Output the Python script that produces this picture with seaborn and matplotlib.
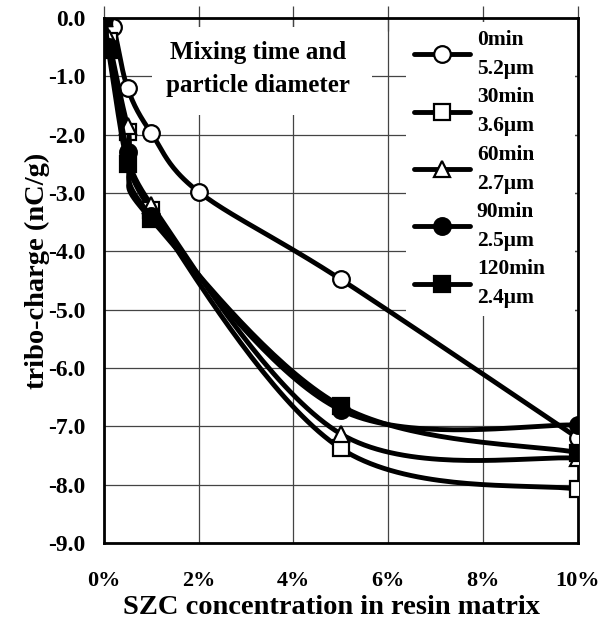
import numpy as np
import pandas as pd
import matplotlib
matplotlib.use("Agg")
import matplotlib.pyplot as plt
from matplotlib.lines import Line2D
from matplotlib.patches import Rectangle
import seaborn as sns

# ---- data ----
x_0min = [0, 0.2, 0.5, 1, 2, 5, 10]
y_0min = [0, -0.15, -1.2, -1.97, -2.98, -4.48, -7.2]
x_other = [0, 0.1, 0.5, 1, 5, 10]
y_30min = [0, -0.4, -1.95, -3.3, -7.38, -8.08]
y_60min = [0, -0.35, -1.85, -3.2, -7.13, -7.55]
y_90min = [0, -0.5, -2.3, -3.4, -6.72, -6.98]
y_120min = [0, -0.55, -2.5, -3.45, -6.65, -7.45]
labels = ["0min\n5.2\u03bcm", "30min\n3.6\u03bcm", "60min\n2.7\u03bcm",
          "90min\n2.5\u03bcm", "120min\n2.4\u03bcm"]
x_ticks = [0, 2, 4, 6, 8, 10]
x_ticklabels = ["0%", "2%", "4%", "6%", "8%", "10%"]
y_ticks = [0, -1, -2, -3, -4, -5, -6, -7, -8, -9]

series = [(x_0min, y_0min, "o", "white"),
          (x_other, y_30min, "s", "white"),
          (x_other, y_60min, "^", "white"),
          (x_other, y_90min, "o", "black"),
          (x_other, y_120min, "s", "black")]

sns.set_theme(style="white")
plt.rcParams["font.family"] = ["Liberation Serif", "DejaVu Serif"]
plt.rcParams["font.weight"] = "bold"
plt.rcParams["axes.labelweight"] = "bold"
for k in ["text.color", "axes.labelcolor", "xtick.color", "ytick.color"]:
    plt.rcParams[k] = "black"

fig = plt.figure(figsize=(6, 6.2), dpi=100)
ax = fig.add_axes([0.173, 0.1242, 0.79, 0.8468])

SX, SY = 47.4, 58.3  # approximate px per unit, used only for smoothing shape


def smooth(xs, ys, n=40):
    P = np.column_stack([np.array(xs, float) * SX, np.array(ys, float) * SY])
    out = []
    m = len(P)
    for i in range(m - 1):
        p0 = P[i - 1] if i > 0 else P[i]
        p1 = P[i]
        p2 = P[i + 1]
        p3 = P[i + 2] if i + 2 < m else P[i + 1]
        c1 = p1 + (p2 - p0) / 6.0
        c2 = p2 - (p3 - p1) / 6.0
        t = np.linspace(0, 1, n)[:, None]
        seg = ((1 - t) ** 3) * p1 + 3 * ((1 - t) ** 2) * t * c1 + 3 * (1 - t) * t ** 2 * c2 + t ** 3 * p2
        out.append(seg if i == 0 else seg[1:])
    S = np.vstack(out)
    return S[:, 0] / SX, S[:, 1] / SY


for k, (xs, ys, mk, fc) in enumerate(series):
    sx, sy = smooth(xs, ys)
    sns.lineplot(x=sx, y=sy, sort=False, color="black", lw=3.5, ax=ax,
                 zorder=3 + k, estimator=None)
    ax.plot(xs, ys, linestyle="none", marker=mk, markersize=12,
            markerfacecolor=fc, markeredgecolor="black", markeredgewidth=1.6,
            zorder=3.5 + k)

ax.set_xlim(0, 10)
ax.set_ylim(-9, 0)
ax.set_xticks(x_ticks)
ax.set_xticklabels(x_ticklabels)
ax.set_yticks(y_ticks)
ax.set_yticklabels([f"{v:.1f}" for v in y_ticks])
ax.grid(True, color="#444444", lw=0.9)
ax.set_axisbelow(True)
for s in ax.spines.values():
    s.set_color("black")
    s.set_linewidth(2.0)
ax.tick_params(axis="x", length=0, pad=11, labelsize=16)
ax.tick_params(axis="y", length=0, pad=13, labelsize=17)
ax.tick_params(axis="x", top=True, bottom=False, direction="inout", length=18,
               width=0.9, color="#444444")
ax.tick_params(axis="y", right=True, left=False, direction="in", length=4,
               width=0.9, color="#444444")
for lab in ax.get_xticklabels() + ax.get_yticklabels():
    lab.set_fontweight("bold")

ax.set_xlabel("SZC concentration in resin matrix", fontsize=20.5, fontweight="bold")
ax.xaxis.set_label_coords(0.48, -0.136)
ax.xaxis.label.set_va("baseline")
ax.set_ylabel("tribo-charge (nC/g)", fontsize=20.5, fontweight="bold")
ax.yaxis.set_label_coords(-0.14, 0.518)
ax.yaxis.label.set_va("center")

# white box behind the title text
ax.add_patch(Rectangle((0.101, 0.815), 0.464, 0.168, transform=ax.transAxes,
                       facecolor="white", edgecolor="none", zorder=2))
ax.text(0.325, 0.903, "Mixing time and\nparticle diameter", transform=ax.transAxes,
        ha="center", va="center", fontsize=18, fontweight="bold", zorder=2.5,
        linespacing=1.55)

handles = [Line2D([0], [0], color="black", lw=3.5, marker=mk, markersize=12,
                  markerfacecolor=fc, markeredgecolor="black", markeredgewidth=1.6)
           for (_, _, mk, fc) in series]
leg = ax.legend(handles, labels, loc="upper left",
                bbox_to_anchor=(0.638, 0.0, 0.356, 0.992), mode="expand",
                frameon=True, fancybox=False, framealpha=1, edgecolor="none",
                facecolor="white", fontsize=15.5, handlelength=2.6, handletextpad=0.33,
                labelspacing=0.39, borderpad=0.35, borderaxespad=0.0)
leg.set_zorder(20)
for t in leg.get_texts():
    t.set_fontweight("bold")
    t.set_linespacing(1.6)

fig.savefig("out.png", dpi=100)
